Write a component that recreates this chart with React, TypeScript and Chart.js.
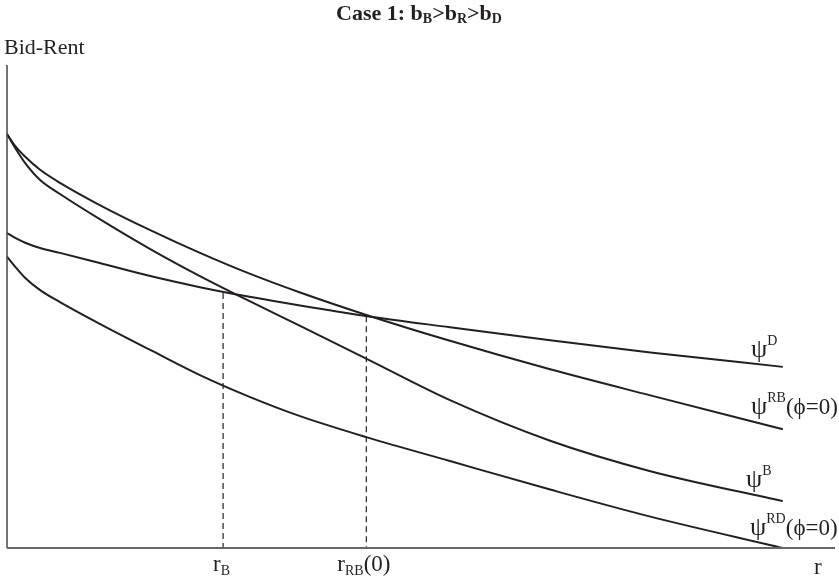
import React, { useEffect, useRef } from "react";
import { Chart, registerables } from "chart.js";

Chart.register(...registerables);

// r positions (0..100 scale) at which the curves were read
const rGrid = [0, 1.0, 2.2, 4.0, 6.4, 11.2, 17.3, 23.3, 29.3, 35.4, 43.5, 53.5, 65.6, 77.7, 93.7];

// bid-rent curves (0..100 scale)
const psiRB = [85.7, 83.2, 81.0, 78.3, 75.6, 71.0, 65.8, 61.1, 56.8, 52.9, 48.2, 42.9, 37.0, 31.6, 24.6];
const psiB = [85.7, 82.8, 79.7, 76.2, 73.3, 68.1, 61.9, 56.3, 51.1, 46.0, 39.1, 30.6, 22.2, 15.9, 9.7];
const psiD = [65.2, 64.2, 63.2, 62.1, 61.1, 59.0, 56.3, 54.0, 52.0, 50.2, 48.0, 45.7, 43.0, 40.5, 37.5];
const psiRD = [60.3, 58.2, 55.9, 53.4, 50.9, 46.4, 41.0, 35.8, 31.3, 27.3, 22.9, 18.0, 12.1, 6.5, 0];

// dashed guides: r value and height at the intersection
const rB = 26.1;
const rBHeight = 52.8;
const rRB0 = 43.4;
const rRB0Height = 48.0;

const SERIF = '"Liberation Serif", "DejaVu Serif", serif';
const INK = "#231f20";

type Seg = { t: string; size: number; dy?: number; bold?: boolean };

function drawRich(ctx: CanvasRenderingContext2D, x: number, y: number, segs: Seg[], align: "left" | "center") {
  const font = (s: Seg) => `${s.bold ? "bold " : ""}${s.size}px ${SERIF}`;
  let total = 0;
  for (const s of segs) {
    ctx.font = font(s);
    total += ctx.measureText(s.t).width;
  }
  let cx = align === "center" ? x - total / 2 : x;
  ctx.textBaseline = "alphabetic";
  ctx.textAlign = "left";
  for (const s of segs) {
    ctx.font = font(s);
    ctx.fillText(s.t, cx, y + (s.dy || 0));
    cx += ctx.measureText(s.t).width;
  }
}

const annotations = {
  id: "annotations",
  afterDraw(chart: any) {
    const ctx: CanvasRenderingContext2D = chart.ctx;
    const xs = chart.scales.x;
    const { left, right, top, bottom } = chart.chartArea;
    ctx.save();
    // axes
    ctx.strokeStyle = "#444";
    ctx.lineWidth = 1.5;
    ctx.beginPath();
    ctx.moveTo(left, top);
    ctx.lineTo(left, bottom);
    ctx.stroke();
    ctx.strokeStyle = "#666";
    ctx.lineWidth = 2;
    ctx.beginPath();
    ctx.moveTo(left, bottom);
    ctx.lineTo(right, bottom);
    ctx.stroke();

    ctx.fillStyle = INK;
    // title
    drawRich(ctx, 419, 20, [
      { t: "Case 1: b", size: 22, bold: true },
      { t: "B", size: 14, dy: 3, bold: true },
      { t: ">b", size: 22, bold: true },
      { t: "R", size: 14, dy: 3, bold: true },
      { t: ">b", size: 22, bold: true },
      { t: "D", size: 14, dy: 3, bold: true },
    ], "center");
    // y axis title
    drawRich(ctx, 4, 54, [{ t: "Bid-Rent", size: 22 }], "left");

    // curve labels
    drawRich(ctx, 751, 357, [{ t: "ψ", size: 26 }, { t: "D", size: 14, dy: -12 }], "left");
    drawRich(ctx, 751, 414, [{ t: "ψ", size: 26 }, { t: "RB", size: 14, dy: -12 }, { t: "(ϕ=0)", size: 23 }], "left");
    drawRich(ctx, 746, 487, [{ t: "ψ", size: 26 }, { t: "B", size: 14, dy: -12 }], "left");
    drawRich(ctx, 750, 535, [{ t: "ψ", size: 26 }, { t: "RD", size: 14, dy: -12 }, { t: "(ϕ=0)", size: 23 }], "left");

    // x labels
    const pB = xs.getPixelForValue(rB);
    const pRB = xs.getPixelForValue(rRB0);
    drawRich(ctx, pB - 10, 571, [{ t: "r", size: 23 }, { t: "B", size: 14, dy: 4 }], "left");
    drawRich(ctx, pRB - 29, 571, [{ t: "r", size: 23 }, { t: "RB", size: 14, dy: 4 }, { t: "(0)", size: 23 }], "left");
    drawRich(ctx, 814, 574, [{ t: "r", size: 23 }], "left");
    ctx.restore();
  },
};

const pts = (xsArr: number[], ys: number[]) => xsArr.map((x, i) => ({ x, y: ys[i] }));

export default function App() {
  const ref = useRef<HTMLCanvasElement>(null);
  useEffect(() => {
    if (!ref.current) return;
    const curve = (label: string, data: { x: number; y: number }[]) => ({
      label,
      data,
      showLine: true,
      borderColor: INK,
      borderWidth: 2,
      pointRadius: 0,
      cubicInterpolationMode: "monotone" as const,
      fill: false,
    });
    const dashed = (label: string, r: number, h: number) => ({
      label,
      data: [{ x: r, y: h }, { x: r, y: 0 }],
      showLine: true,
      borderColor: "#333",
      borderWidth: 1.3,
      borderDash: [6, 4],
      pointRadius: 0,
      fill: false,
    });
    const chart = new Chart(ref.current, {
      type: "scatter",
      data: {
        datasets: [
          curve("psiRB", pts(rGrid, psiRB)),
          curve("psiB", pts(rGrid, psiB)),
          curve("psiD", pts(rGrid, psiD)),
          curve("psiRD", pts(rGrid, psiRD)),
          dashed("rB", rB, rBHeight),
          dashed("rRB0", rRB0, rRB0Height),
        ],
      },
      options: {
        responsive: false,
        animation: false,
        layout: { padding: { left: 7, right: 4, top: 65, bottom: 39 } },
        scales: {
          x: { type: "linear", min: 0, max: 100, display: false },
          y: { type: "linear", min: 0, max: 100, display: false },
        },
        plugins: { legend: { display: false }, tooltip: { enabled: false }, title: { display: false } },
      },
      plugins: [annotations],
    });
    return () => chart.destroy();
  }, []);
  return (
    <div style={{ position: "fixed", left: 0, top: 0, width: 839, height: 587, background: "#fff" }}>
      <canvas ref={ref} width={839} height={587} />
    </div>
  );
}
